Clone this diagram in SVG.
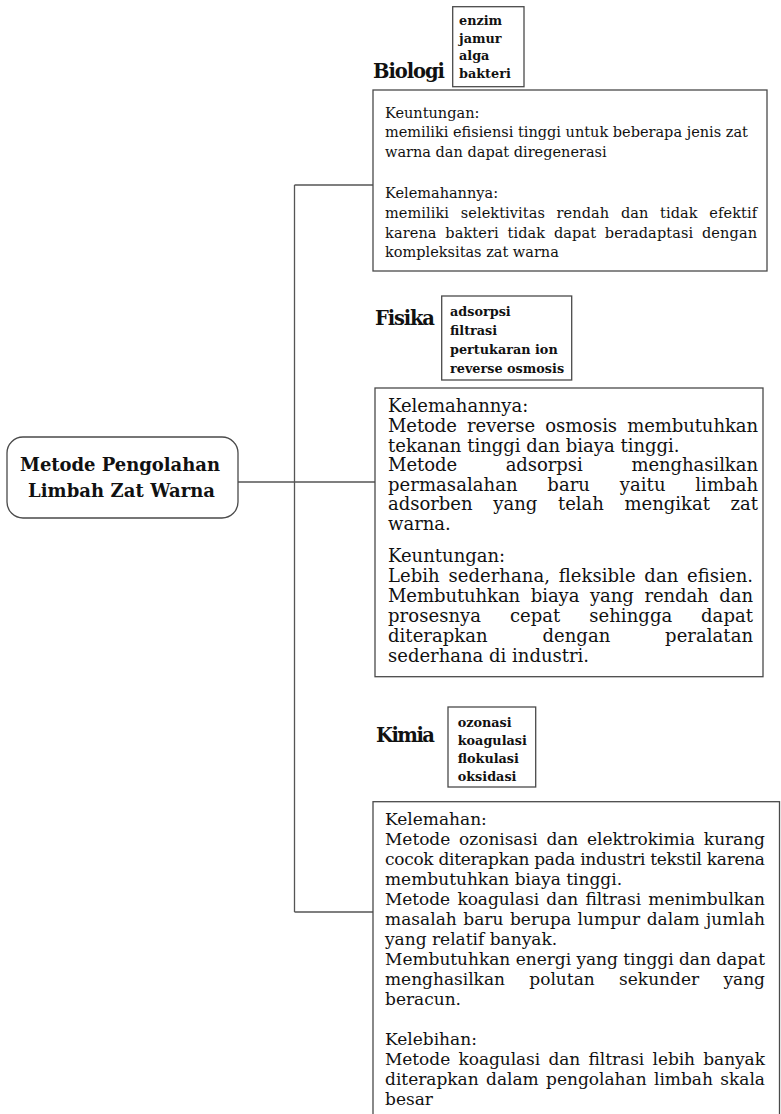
<svg xmlns="http://www.w3.org/2000/svg" width="781" height="1114" viewBox="0 0 781 1114">
<style>
.box{fill:#fff;stroke:#4a4a4a;stroke-width:1.3}
.conn{fill:none;stroke:#555;stroke-width:1.3}
.t{font-family:"DejaVu Serif","Liberation Serif",serif;fill:#111}
.b{font-weight:bold}
.lbl{font-size:19.5px}
.root{font-size:18px}
.item{font-size:12.8px}
.bio{font-size:14.5px}
.fis{font-size:18px}
.kim{font-size:17px}
</style>
<rect width="781" height="1114" fill="#fff"/>
<g id="connectors">
<line class="conn" x1="238" y1="482" x2="375" y2="482"/>
<line class="conn" x1="294.5" y1="185" x2="294.5" y2="912"/>
<line class="conn" x1="294.5" y1="185" x2="373" y2="185"/>
<line class="conn" x1="294.5" y1="912" x2="373" y2="912"/>
</g>
<g id="root">
<rect class="box" x="7" y="437" width="231" height="81" rx="16"/>
<text class="t b root" x="20" y="471" textLength="200">Metode Pengolahan</text>
<text class="t b root" x="28" y="497" textLength="187">Limbah Zat Warna</text>
</g>
<g id="biologi">
<text class="t b lbl" x="373" y="78" textLength="72">Biologi</text>
<rect class="box" x="452.7" y="6.7" width="71.3" height="80"/>
<text class="t b item" x="459" y="25">enzim</text>
<text class="t b item" x="459" y="42.5">jamur</text>
<text class="t b item" x="459" y="60">alga</text>
<text class="t b item" x="459" y="78">bakteri</text>
<rect class="box" x="373" y="90" width="394" height="181"/>
<text class="t bio" x="385" y="118">Keuntungan:</text>
<text class="t bio" x="385" y="137">memiliki efisiensi tinggi untuk beberapa jenis zat</text>
<text class="t bio" x="385" y="156.5">warna dan dapat diregenerasi</text>
<text class="t bio" x="385" y="198">Kelemahannya:</text>
<text class="t bio" x="385" y="218" word-spacing="7" textLength="372">memiliki selektivitas rendah dan tidak efektif</text>
<text class="t bio" x="385" y="237.5" word-spacing="4" textLength="372">karena bakteri tidak dapat beradaptasi dengan</text>
<text class="t bio" x="385" y="257">kompleksitas zat warna</text>
</g>
<g id="fisika">
<text class="t b lbl" x="375" y="325" textLength="60">Fisika</text>
<rect class="box" x="441.7" y="296" width="130" height="84"/>
<text class="t b item" x="450" y="316">adsorpsi</text>
<text class="t b item" x="450" y="335">filtrasi</text>
<text class="t b item" x="450" y="354">pertukaran ion</text>
<text class="t b item" x="450" y="373">reverse osmosis</text>
<rect class="box" x="375" y="388" width="388" height="288.7"/>
<text class="t fis" x="388" y="411.7">Kelemahannya:</text>
<text class="t fis" x="388" y="432" word-spacing="4.5" textLength="370">Metode reverse osmosis membutuhkan</text>
<text class="t fis" x="388" y="451.5">tekanan tinggi dan biaya tinggi.</text>
<text class="t fis" x="388" y="471" word-spacing="43" textLength="370">Metode adsorpsi menghasilkan</text>
<text class="t fis" x="388" y="490.7" word-spacing="24" textLength="370">permasalahan baru yaitu limbah</text>
<text class="t fis" x="388" y="510" word-spacing="15" textLength="370">adsorben yang telah mengikat zat</text>
<text class="t fis" x="388" y="530">warna.</text>
<text class="t fis" x="388" y="561.7">Keuntungan:</text>
<text class="t fis" x="388" y="581.7" word-spacing="3" textLength="365">Lebih sederhana, fleksible dan efisien.</text>
<text class="t fis" x="388" y="601.7" word-spacing="5" textLength="365">Membutuhkan biaya yang rendah dan</text>
<text class="t fis" x="388" y="621.7" word-spacing="23" textLength="365">prosesnya cepat sehingga dapat</text>
<text class="t fis" x="388" y="641.7" word-spacing="49" textLength="365">diterapkan dengan peralatan</text>
<text class="t fis" x="388" y="661.7">sederhana di industri.</text>
</g>
<g id="kimia">
<text class="t b lbl" x="376" y="741.7" textLength="59">Kimia</text>
<rect class="box" x="448" y="707" width="87.7" height="80"/>
<text class="t b item" x="457.7" y="726.7">ozonasi</text>
<text class="t b item" x="457.7" y="745">koagulasi</text>
<text class="t b item" x="457.7" y="763">flokulasi</text>
<text class="t b item" x="457.7" y="781">oksidasi</text>
<rect class="box" x="373" y="801.7" width="406.5" height="330"/>
<text class="t kim" x="385" y="825">Kelemahan:</text>
<text class="t kim" x="385" y="845" word-spacing="3.5" textLength="380">Metode ozonisasi dan elektrokimia kurang</text>
<text class="t kim" x="385" y="865" textLength="380">cocok diterapkan pada industri tekstil karena</text>
<text class="t kim" x="385" y="885">membutuhkan biaya tinggi.</text>
<text class="t kim" x="385" y="905" word-spacing="2" textLength="380">Metode koagulasi dan filtrasi menimbulkan</text>
<text class="t kim" x="385" y="925" word-spacing="1" textLength="380">masalah baru berupa lumpur dalam jumlah</text>
<text class="t kim" x="385" y="945">yang relatif banyak.</text>
<text class="t kim" x="385" y="965" textLength="380">Membutuhkan energi yang tinggi dan dapat</text>
<text class="t kim" x="385" y="985" word-spacing="19" textLength="380">menghasilkan polutan sekunder yang</text>
<text class="t kim" x="385" y="1005">beracun.</text>
<text class="t kim" x="385" y="1045">Kelebihan:</text>
<text class="t kim" x="385" y="1065" word-spacing="3" textLength="380">Metode koagulasi dan filtrasi lebih banyak</text>
<text class="t kim" x="385" y="1085" word-spacing="2" textLength="380">diterapkan dalam pengolahan limbah skala</text>
<text class="t kim" x="385" y="1105">besar</text>
</g>
</svg>
